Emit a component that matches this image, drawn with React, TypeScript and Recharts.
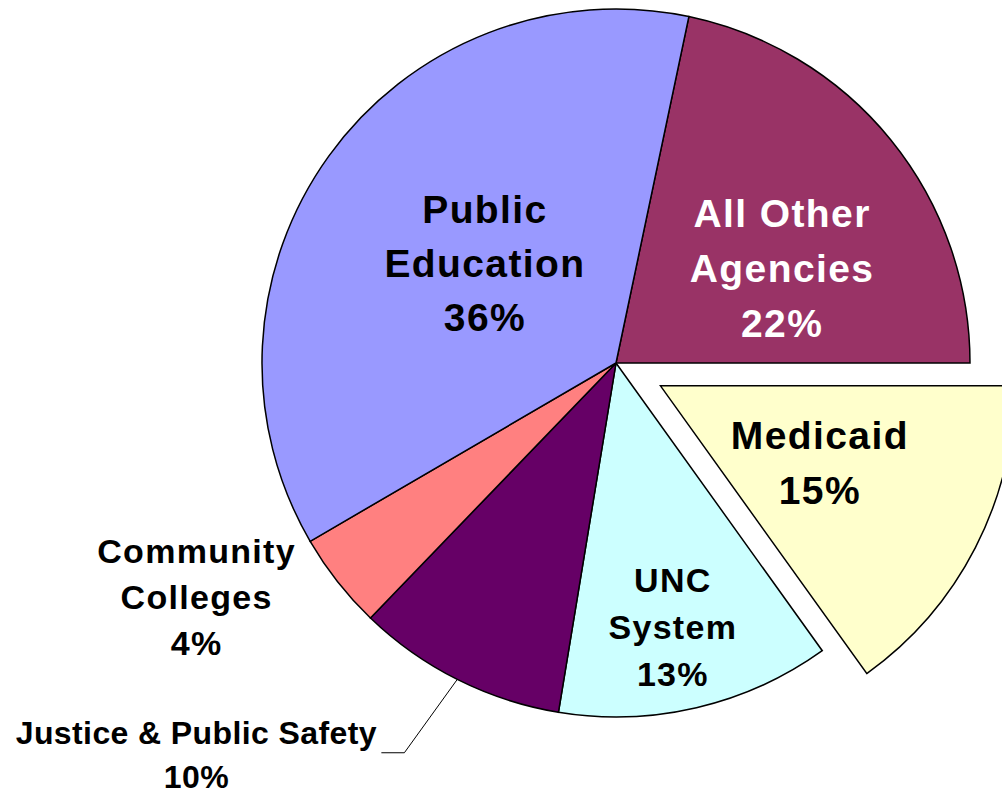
import React from 'react';
import { PieChart, Pie, Cell } from 'recharts';

// budget shares, clockwise starting from the top right slice
const categories = [
  'All Other Agencies',
  'Medicaid',
  'UNC System',
  'Justice & Public Safety',
  'Community Colleges',
  'Public Education',
];
const shares = [21.7, 15.1, 12.5, 9.6, 4.4, 36.7];
const percentLabels = ['22%', '15%', '13%', '10%', '4%', '36%'];
const nameLines = [
  ['All Other', 'Agencies'],
  ['Medicaid'],
  ['UNC', 'System'],
  ['Justice & Public Safety'],
  ['Community', 'Colleges'],
  ['Public', 'Education'],
];
const explodedCategory = 'Medicaid';

const colors = ['#993366', '#FFFFCC', '#CCFFFF', '#660066', '#FF8080', '#9999FF'];

const chartData = categories.map((name, i) => ({ name, value: shares[i] }));

const CX = 616;
const CY = 363;
const R = 354;
const START = 78.12;
const END = START - 360;
const EXPLODE = 50;
const FONT = '"Liberation Sans", Arial, sans-serif';

const total = shares.reduce((a, b) => a + b, 0);
const ei = categories.indexOf(explodedCategory);
const before = shares.slice(0, ei).reduce((a, b) => a + b, 0);
const explodeMid = START - ((before + shares[ei] / 2) / total) * 360;
const RAD = Math.PI / 180;
const ecx = CX + EXPLODE * Math.cos(explodeMid * RAD);
const ecy = CY - EXPLODE * Math.sin(explodeMid * RAD);

// label placement: radius factor, angle nudge from the slice middle, font
const labelLayout = [
  { r: 0.522, da: -13.06, size: 39, lh: 55, ls: 1.4, color: '#fff' },
  { r: 0.659, da: -1.9, size: 39, lh: 55, ls: 1.4, color: '#000' },
  { r: 0.796, da: -1.5, size: 34, lh: 47, ls: 1.3, color: '#000' },
  { r: 1.644, da: -19.5, size: 32, lh: 44, ls: 0.4, color: '#000', leader: true },
  { r: 1.373, da: -7.8, size: 34, lh: 46, ls: 1.3, color: '#000' },
  { r: 0.443, da: 2.5, size: 39, lh: 54, ls: 1.4, color: '#000' },
];

const renderLabel = (props: any) => {
  const { cx, cy, midAngle, outerRadius, index } = props;
  const cfg = labelLayout[index];
  const a = (midAngle + cfg.da) * RAD;
  const x = cx + outerRadius * cfg.r * Math.cos(a);
  const y = cy - outerRadius * cfg.r * Math.sin(a);
  const lines = [...nameLines[index], percentLabels[index]];
  const n = lines.length;
  let leader = null;
  if (cfg.leader) {
    const ex = cx + outerRadius * Math.cos(midAngle * RAD);
    const ey = cy - outerRadius * Math.sin(midAngle * RAD);
    const ly = y - 13.5;
    leader = (
      <polyline
        points={`${ex},${ey} ${x + 208},${ly} ${x + 185},${ly}`}
        fill="none"
        stroke="#000"
        strokeWidth={1}
      />
    );
  }
  return (
    <g key={`lbl-${index}`}>
      {leader}
      <text
        x={x}
        y={y}
        textAnchor="middle"
        fontFamily={FONT}
        fontWeight="bold"
        fontSize={cfg.size}
        letterSpacing={cfg.ls}
        fill={cfg.color}
      >
        {lines.map((line, k) => (
          <tspan key={k} x={x} y={y + (k - (n - 1) / 2) * cfg.lh}>
            {line}
          </tspan>
        ))}
      </text>
    </g>
  );
};

export default function App() {
  return (
    <div style={{ position: 'absolute', left: 0, top: 0, width: 1002, height: 793, background: '#fff' }}>
      <PieChart width={1002} height={793} margin={{ top: 0, right: 0, bottom: 0, left: 0 }}>
        {/* pulled out slice, drawn first so the labels stay on top */}
        <Pie
          data={chartData}
          dataKey="value"
          nameKey="name"
          cx={ecx}
          cy={ecy}
          outerRadius={R}
          startAngle={START}
          endAngle={END}
          label={false}
          labelLine={false}
          isAnimationActive={false}
        >
          {chartData.map((d, i) => (
            <Cell
              key={i}
              fill={i === ei ? colors[i] : 'none'}
              stroke={i === ei ? '#000' : 'none'}
              strokeWidth={1.5}
            />
          ))}
        </Pie>
        <Pie
          data={chartData}
          dataKey="value"
          nameKey="name"
          cx={CX}
          cy={CY}
          outerRadius={R}
          startAngle={START}
          endAngle={END}
          label={renderLabel}
          labelLine={false}
          isAnimationActive={false}
        >
          {chartData.map((d, i) => (
            <Cell
              key={i}
              fill={i === ei ? 'none' : colors[i]}
              stroke={i === ei ? 'none' : '#000'}
              strokeWidth={1.5}
            />
          ))}
        </Pie>
      </PieChart>
    </div>
  );
}
